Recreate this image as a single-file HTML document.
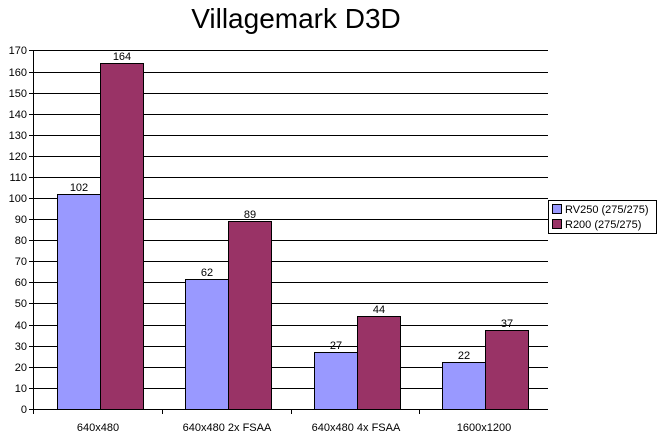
<!DOCTYPE html>
<html><head><style>body{margin:0;background:#fff}svg{display:block}</style></head><body>
<svg width="660" height="444" xmlns="http://www.w3.org/2000/svg" font-family="Liberation Sans, sans-serif">
<rect width="660" height="444" fill="#fff"/>
<text x="296" y="28" font-size="28" text-anchor="middle">Villagemark D3D</text>
<g stroke="#000" stroke-width="1" shape-rendering="crispEdges">
<line x1="29" y1="409.5" x2="548" y2="409.5"/><line x1="29" y1="388.5" x2="548" y2="388.5"/><line x1="29" y1="367.5" x2="548" y2="367.5"/><line x1="29" y1="346.5" x2="548" y2="346.5"/><line x1="29" y1="325.5" x2="548" y2="325.5"/><line x1="29" y1="303.5" x2="548" y2="303.5"/><line x1="29" y1="282.5" x2="548" y2="282.5"/><line x1="29" y1="261.5" x2="548" y2="261.5"/><line x1="29" y1="240.5" x2="548" y2="240.5"/><line x1="29" y1="219.5" x2="548" y2="219.5"/><line x1="29" y1="198.5" x2="548" y2="198.5"/><line x1="29" y1="177.5" x2="548" y2="177.5"/><line x1="29" y1="156.5" x2="548" y2="156.5"/><line x1="29" y1="135.5" x2="548" y2="135.5"/><line x1="29" y1="114.5" x2="548" y2="114.5"/><line x1="29" y1="93.5" x2="548" y2="93.5"/><line x1="29" y1="72.5" x2="548" y2="72.5"/><line x1="29" y1="50.5" x2="548" y2="50.5"/>
<line x1="33.5" y1="50" x2="33.5" y2="414"/>
<line x1="162.5" y1="409" x2="162.5" y2="414"/><line x1="291.5" y1="409" x2="291.5" y2="414"/><line x1="419.5" y1="409" x2="419.5" y2="414"/>
</g>
<g font-size="11" text-anchor="end">
<text x="27" y="413">0</text><text x="27" y="392">10</text><text x="27" y="371">20</text><text x="27" y="350">30</text><text x="27" y="329">40</text><text x="27" y="307">50</text><text x="27" y="286">60</text><text x="27" y="265">70</text><text x="27" y="244">80</text><text x="27" y="223">90</text><text x="27" y="202">100</text><text x="27" y="181">110</text><text x="27" y="160">120</text><text x="27" y="139">130</text><text x="27" y="118">140</text><text x="27" y="97">150</text><text x="27" y="76">160</text><text x="27" y="54">170</text>
</g>
<g stroke="#000" stroke-width="1" shape-rendering="crispEdges">
<rect x="57.5" y="194.5" width="43" height="215" fill="#9999ff"/>
<rect x="100.5" y="63.5" width="43" height="346" fill="#993366"/>
<rect x="185.5" y="279.5" width="43" height="130" fill="#9999ff"/>
<rect x="228.5" y="221.5" width="43" height="188" fill="#993366"/>
<rect x="314.5" y="352.5" width="43" height="57" fill="#9999ff"/>
<rect x="357.5" y="316.5" width="43" height="93" fill="#993366"/>
<rect x="442.5" y="362.5" width="43" height="47" fill="#9999ff"/>
<rect x="485.5" y="330.5" width="43" height="79" fill="#993366"/>
</g>
<g font-size="11" text-anchor="middle">
<text x="79" y="191">102</text><text x="122" y="60">164</text>
<text x="207" y="276">62</text><text x="250" y="218">89</text>
<text x="336" y="349">27</text><text x="379" y="313">44</text>
<text x="464" y="359">22</text><text x="507" y="327">37</text>
<text x="98" y="431">640x480</text><text x="227" y="431">640x480 2x FSAA</text><text x="356" y="431">640x480 4x FSAA</text><text x="484" y="431">1600x1200</text>
</g>
<rect x="548.5" y="200.5" width="108" height="33" fill="#fff" stroke="#000" shape-rendering="crispEdges"/>
<rect x="552.5" y="204.5" width="9" height="9" fill="#9999ff" stroke="#000" shape-rendering="crispEdges"/>
<rect x="552.5" y="219.5" width="9" height="9" fill="#993366" stroke="#000" shape-rendering="crispEdges"/>
<g font-size="11"><text x="565" y="213">RV250 (275/275)</text><text x="565" y="228">R200 (275/275)</text></g>
</svg>
</body></html>
